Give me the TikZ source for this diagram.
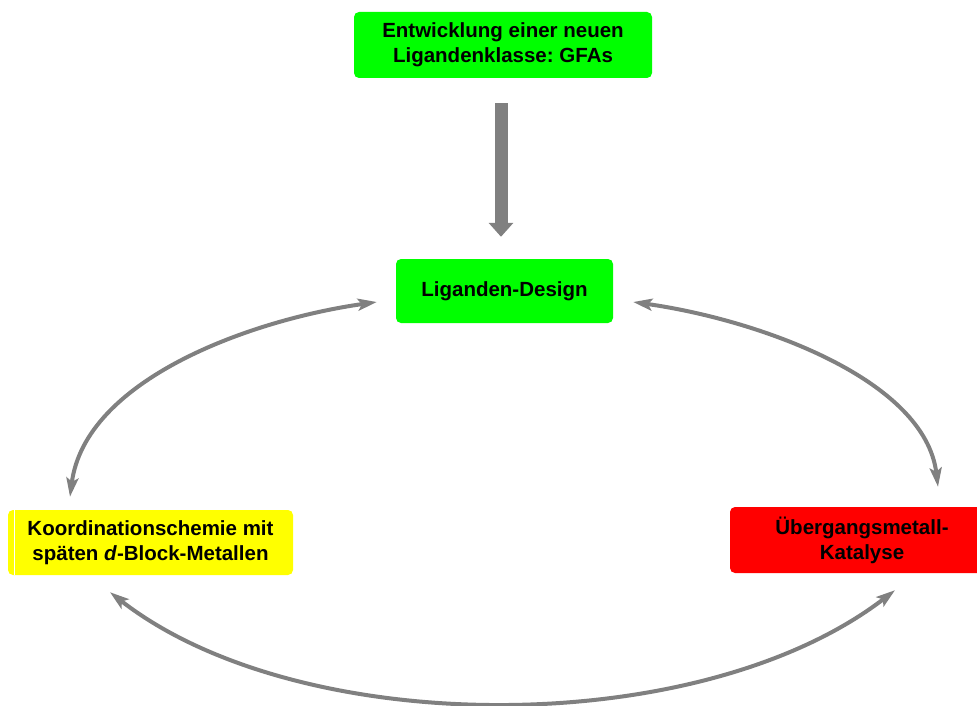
\documentclass[tikz,border=0pt]{standalone}
\usepackage{fontspec}
\setmainfont{Liberation Sans}
\usetikzlibrary{arrows.meta}
\definecolor{gruen}{HTML}{00FF00}
\definecolor{gelb}{HTML}{FFFF00}
\definecolor{rot}{HTML}{FF0000}
\definecolor{grau}{HTML}{808080}
\frenchspacing
\tikzset{kasten/.style={rounded corners=5pt, inner sep=0pt, align=center},
	bogen/.style={grau, line width=4pt, <->}}
\begin{document}
\begin{tikzpicture}[x=1pt, y=-1pt, font=\fontsize{20.5}{25}\selectfont\bfseries, line join=round, >={Stealth[length=19pt,width=12pt,inset=4pt]}]
	\useasboundingbox (0,0) rectangle (977,706);
	\clip (0,0) rectangle (977,706);
	\node[kasten, fill=gruen, minimum width=298pt, minimum height=66pt] (entw) at (503,45) {Entwicklung einer neuen\\Ligandenklasse: GFAs};
	\node[kasten, fill=gruen, minimum width=217pt, minimum height=64pt] (design) at (504.5,291) {Liganden-Design};
	\node[kasten, fill=gelb, minimum width=285pt, minimum height=65pt] (koord) at (150.5,542.5) {Koordinationschemie mit\\sp\"aten \textit{d}-Block-Metallen};
	\node[kasten, fill=rot, minimum width=264pt, minimum height=66pt] (kat) at (862,540) {Übergangsmetall-\\Katalyse};
	\draw[white, line width=1pt] ([xshift=6.5pt]koord.north west) -- ([xshift=6.5pt]koord.south west);
	% Pfeil nach unten
	\draw[grau, line width=13pt, -{Triangle[width=24pt,length=14pt]}, shorten <=25pt, shorten >=22pt] ([xshift=-2pt]entw.south) -- ([xshift=-3.5pt]design.north);
	% Kreislauf
	\path ([shift={(-80.5,-13)}]koord.north) coordinate (k1)
		([shift={(-19,11)}]design.west) coordinate (d1)
		([shift={(20,11)}]design.east) coordinate (d2)
		([shift={(76,-20)}]kat.north) coordinate (u1)
		([shift={(33,17)}]kat.south) coordinate (u2)
		([shift={(-40.5,17)}]koord.south) coordinate (k2);
	\draw[bogen] (k1) .. controls +(15,-117) and +(-127,18) .. (d1);
	\draw[bogen] (d2) .. controls +(127,18) and +(-13,-107) .. (u1);
	\draw[bogen] (k2) .. controls +(190,148) and +(-195,150) .. (u2);
\end{tikzpicture}
\end{document}
